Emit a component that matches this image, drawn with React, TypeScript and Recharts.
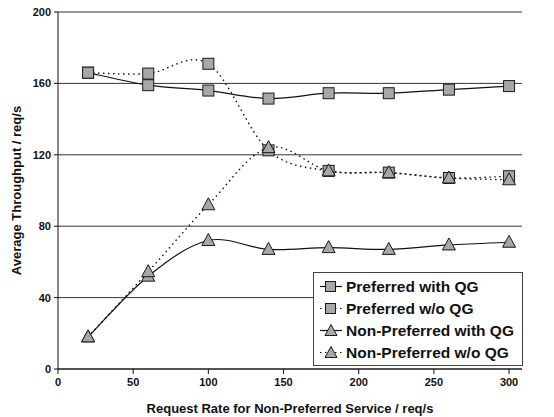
import React from 'react';
import { LineChart, Line, XAxis, YAxis, CartesianGrid } from 'recharts';

// request rate for the non-preferred service (req/s)
const rates = [20, 60, 100, 140, 180, 220, 260, 300];

const preferredWithQG = [166, 159, 156, 151.5, 154.5, 154.5, 156.5, 158.5];
const preferredNoQG = [166, 165.5, 171, 122.5, 111, 110, 107, 108];
const nonPreferredWithQG = [18, 52, 72, 67, 68, 67, 69.5, 71];
const nonPreferredNoQG = [18, 54.5, 92, 124, 111, 110, 107, 106];

const xTicks = [0, 50, 100, 150, 200, 250, 300];
const yTicks = [0, 40, 80, 120, 160, 200];

const data = rates.map((rate, i) => ({
  rate,
  prefQG: preferredWithQG[i],
  prefNoQG: preferredNoQG[i],
  nonPrefQG: nonPreferredWithQG[i],
  nonPrefNoQG: nonPreferredNoQG[i],
}));

const FONT = '"Liberation Sans", Arial, Helvetica, sans-serif';
const MARK_FILL = '#aaa6a7';

// spreadsheet-style smoothing: bezier segments with Catmull-Rom control points
const smoothCurve = (context: any) => {
  let pts: [number, number][] = [];
  return {
    areaStart() {},
    areaEnd() {},
    lineStart() {
      pts = [];
    },
    point(x: number, y: number) {
      pts.push([+x, +y]);
    },
    lineEnd() {
      if (!pts.length) return;
      context.moveTo(pts[0][0], pts[0][1]);
      for (let i = 0; i < pts.length - 1; i++) {
        const p0 = pts[i - 1] || pts[i];
        const p1 = pts[i];
        const p2 = pts[i + 1];
        const p3 = pts[i + 2] || p2;
        context.bezierCurveTo(
          p1[0] + (p2[0] - p0[0]) / 6,
          p1[1] + (p2[1] - p0[1]) / 6,
          p2[0] - (p3[0] - p1[0]) / 6,
          p2[1] - (p3[1] - p1[1]) / 6,
          p2[0],
          p2[1]
        );
      }
    },
  };
};

const Square = ({ cx, cy }: any) => (
  <rect x={cx - 5.5} y={cy - 5.5} width={11} height={11} fill={MARK_FILL} stroke="#1a1a1a" strokeWidth={1} />
);

const Triangle = ({ cx, cy }: any) => (
  <path d={`M${cx},${cy - 7} L${cx + 6.5},${cy + 5} L${cx - 6.5},${cy + 5} Z`} fill={MARK_FILL} stroke="#1a1a1a" strokeWidth={1} />
);

const legendItems = [
  { label: 'Preferred with QG', dashed: false, shape: 'square' },
  { label: 'Preferred w/o QG', dashed: true, shape: 'square' },
  { label: 'Non-Preferred with QG', dashed: false, shape: 'triangle' },
  { label: 'Non-Preferred w/o QG', dashed: true, shape: 'triangle' },
];

const LegendBox = () => (
  <svg width={210} height={94} style={{ display: 'block' }}>
    <rect x={0.5} y={0.5} width={209} height={93} fill="#fff" stroke="#444" />
    {legendItems.map((item, i) => {
      const y = 14.5 + i * 22;
      return (
        <g key={item.label}>
          <line x1={7} x2={29} y1={y} y2={y} stroke="#111" strokeWidth={1.2} strokeDasharray={item.dashed ? '1.5 3.5' : undefined} />
          {item.shape === 'square' ? (
            <rect x={12.5} y={y - 5} width={10} height={10} fill={MARK_FILL} stroke="#1a1a1a" />
          ) : (
            <path d={`M18,${y - 6} L24,${y + 5} L12,${y + 5} Z`} fill={MARK_FILL} stroke="#1a1a1a" />
          )}
          <text x={33} y={y + 5.5} fontFamily={FONT} fontWeight="bold" fontSize={15.5} fill="#111">
            {item.label}
          </text>
        </g>
      );
    })}
  </svg>
);

const tickStyle = { fontFamily: FONT, fontWeight: 'bold' as const, fontSize: 11, fill: '#111' };

export default function App() {
  return (
    <div style={{ position: 'absolute', left: 0, top: 0, width: 554, height: 417, background: '#fff' }}>
      <LineChart width={554} height={417} data={data} margin={{ top: 12, right: 32, bottom: 0, left: 0 }}>
        <CartesianGrid vertical={false} stroke="#333" strokeWidth={1} />
        <XAxis
          dataKey="rate"
          type="number"
          domain={[0, 308.6]}
          ticks={xTicks}
          height={48}
          tickSize={5}
          tickMargin={4}
          stroke="#111"
          tick={tickStyle}
          label={{ value: 'Request Rate for Non-Preferred Service / req/s', position: 'insideBottom', offset: 4, style: { fontFamily: FONT, fontWeight: 'bold', fontSize: 13, fill: '#111' } }}
        />
        <YAxis
          type="number"
          domain={[0, 200]}
          ticks={yTicks}
          width={58}
          tickSize={4}
          tickMargin={3}
          stroke="#111"
          tick={tickStyle}
          label={{ value: 'Average Throughput / req/s', angle: -90, position: 'insideLeft', offset: 16, style: { textAnchor: 'middle', fontFamily: FONT, fontWeight: 'bold', fontSize: 13, fill: '#111' } }}
        />
        <Line dataKey="prefQG" type={smoothCurve as any} stroke="#111" strokeWidth={1.2} dot={<Square />} isAnimationActive={false} />
        <Line dataKey="prefNoQG" type={smoothCurve as any} stroke="#111" strokeWidth={1.4} strokeDasharray="1.5 3.5" dot={<Square />} isAnimationActive={false} />
        <Line dataKey="nonPrefQG" type={smoothCurve as any} stroke="#111" strokeWidth={1.2} dot={<Triangle />} isAnimationActive={false} />
        <Line dataKey="nonPrefNoQG" type={smoothCurve as any} stroke="#111" strokeWidth={1.4} strokeDasharray="1.5 3.5" dot={<Triangle />} isAnimationActive={false} />
      </LineChart>
      <div style={{ position: 'absolute', left: 313, top: 272 }}>
        <LegendBox />
      </div>
    </div>
  );
}
